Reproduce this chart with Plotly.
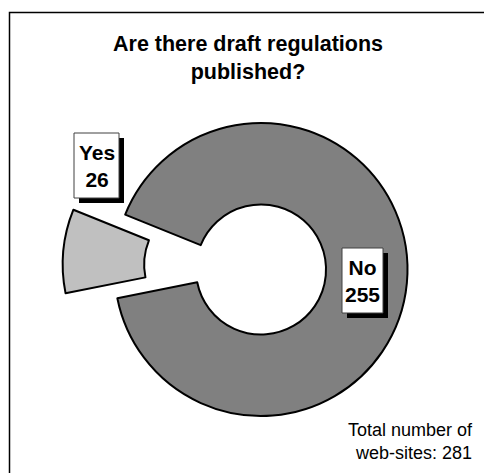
import plotly.graph_objects as go

# Survey answers
labels = ["Yes", "No"]
values = [26, 255]
total_sites = 281

W, H = 484, 473


def px(x):
    return x / W


def py(y):
    return 1 - y / H


fig = go.Figure(
    go.Pie(
        labels=labels,
        values=values,
        sort=False,
        direction="clockwise",
        rotation=-101.3,
        hole=0.444,
        pull=[0.355, 0],
        marker=dict(colors=["#c0c0c0", "#808080"], line=dict(color="black", width=2)),
        textinfo="none",
        hoverinfo="label+value",
        showlegend=False,
        domain=dict(x=[px(62.5), px(459.5)], y=[py(468), py(71)]),
    )
)

shapes = [
    # chart frame
    dict(type="rect", xref="paper", yref="paper",
         x0=px(9.5), x1=1.05, y0=-0.05, y1=py(12.5),
         line=dict(color="black", width=1.5), fillcolor="rgba(0,0,0,0)", layer="below"),
]
annotations = [
    dict(text="<b>Are there draft regulations<br>published?</b>",
         x=px(248), y=py(30), xref="paper", yref="paper",
         xanchor="center", yanchor="top", showarrow=False,
         font=dict(family="Liberation Sans, Arial", size=21.5, color="black")),
    dict(text=f"Total number of<br>web-sites: {total_sites}",
         x=px(475), y=py(465), xref="paper", yref="paper",
         xanchor="right", yanchor="bottom", align="right", showarrow=False,
         font=dict(family="Liberation Sans, Arial", size=18, color="black")),
]

# label boxes with drop shadows: (x0, y0, x1, y1) in pixels
boxes = {"Yes": (74, 133, 119, 198), "No": (342, 248, 383, 313)}
off = 5
for lab, val in zip(labels, values):
    x0, y0, x1, y1 = boxes[lab]
    shapes.append(dict(type="rect", xref="paper", yref="paper",
                       x0=px(x0 + off), x1=px(x1 + off), y0=py(y1 + off), y1=py(y0 + off),
                       line=dict(width=0), fillcolor="black", layer="above"))
    shapes.append(dict(type="rect", xref="paper", yref="paper",
                       x0=px(x0), x1=px(x1), y0=py(y1), y1=py(y0),
                       line=dict(color="#404040", width=1), fillcolor="white", layer="above"))
    annotations.append(dict(text=f"<b>{lab}<br>{val}</b>",
                            x=px((x0 + x1) / 2), y=py((y0 + y1) / 2),
                            xref="paper", yref="paper", xanchor="center", yanchor="middle",
                            showarrow=False,
                            font=dict(family="Liberation Sans, Arial", size=21, color="black")))

fig.update_layout(
    width=W, height=H,
    margin=dict(l=0, r=0, t=0, b=0),
    paper_bgcolor="white", plot_bgcolor="white",
    shapes=shapes, annotations=annotations,
)

fig.write_html("out.html")
